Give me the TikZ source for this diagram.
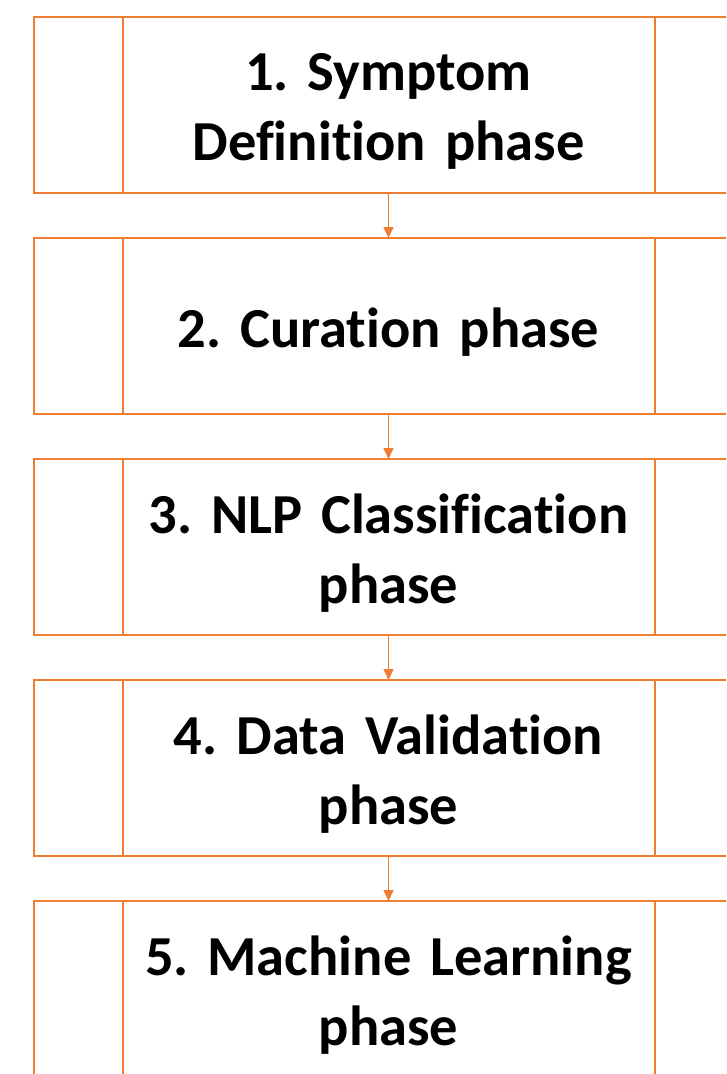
\documentclass[tikz,border=0pt]{standalone}
\usepackage{fontspec}
\setmainfont{Carlito}[Ligatures=NoCommon]
\usetikzlibrary{arrows.meta}
\definecolor{orng}{HTML}{ED7D31}
\frenchspacing
\begin{document}
\begin{tikzpicture}[x=1pt,y=-1pt,
  phase/.style={draw=orng, line width=2pt, minimum width=532pt, minimum height=176pt,
    inner sep=0pt, outer sep=0pt},
  txt/.style={text width=525pt, align=center, inner sep=0pt, yshift=-6pt,
    font=\bfseries\fontsize{56.5}{70}\selectfont},
  cell/.style={draw=orng, line width=2pt},
  flow/.style={draw=orng, line width=1.5pt, -{Triangle[width=10pt,length=11pt]}}]
\useasboundingbox (0,0) rectangle (726,1074);
\clip (0,0) rectangle (726,1074);
\node[phase,label={[txt]center:1. Symptom\\Definition phase}] (b1) at (388.5,105) {};
\node[phase,label={[txt]center:2. Curation phase}] (b2) at (388.5,326) {};
\node[phase,label={[txt]center:3. NLP Classification\\phase}] (b3) at (388.5,547) {};
\node[phase,label={[txt]center:4. Data Validation\\phase}] (b4) at (388.5,768) {};
\node[phase,label={[txt]center:5. Machine Learning\\phase}] (b5) at (388.5,989) {};
\foreach \b in {b1,b2,b3,b4,b5}{
  \draw[cell] (\b.north west) -- ++(-88.5,0) |- (\b.south west);
  \draw[cell] (\b.north east) -- ++(120,0) (\b.south east) -- ++(120,0);
}
\draw[flow] (b1.south) -- (b2.north);
\draw[flow] (b2.south) -- (b3.north);
\draw[flow] (b3.south) -- (b4.north);
\draw[flow] (b4.south) -- (b5.north);
\end{tikzpicture}
\end{document}
